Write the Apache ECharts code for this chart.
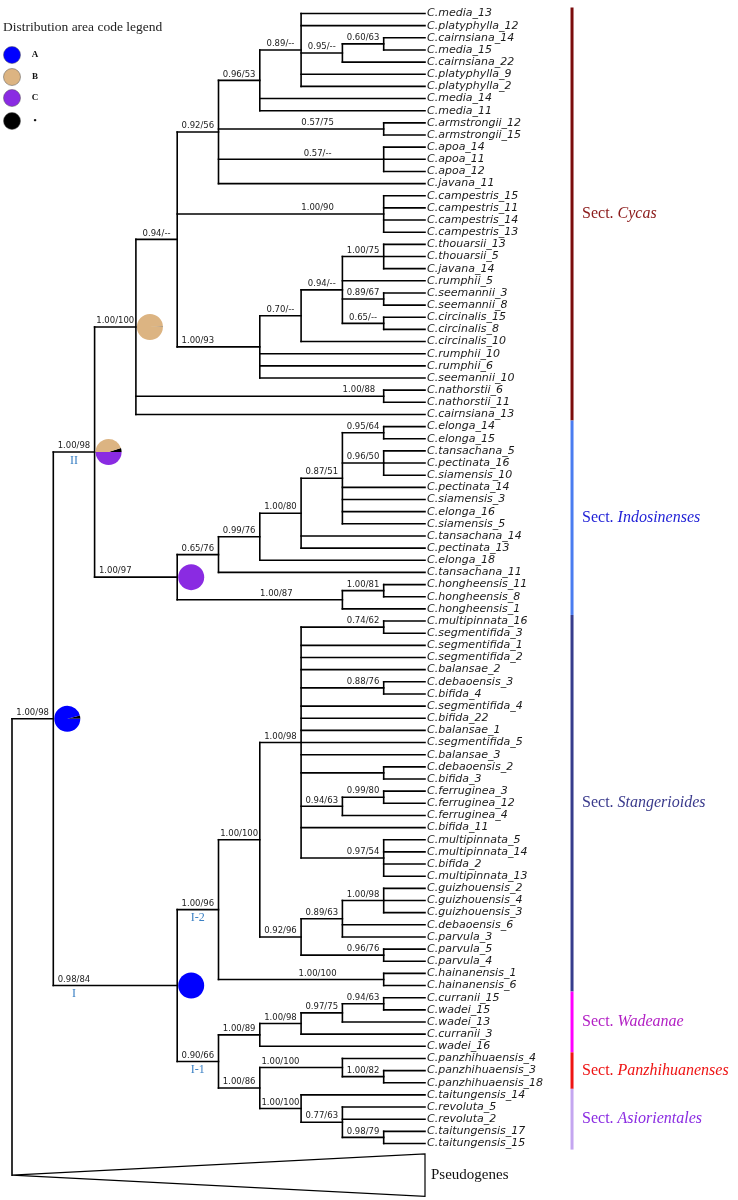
<!DOCTYPE html>
<html><head><meta charset="utf-8">
<script src="https://cdn.jsdelivr.net/npm/echarts@6/dist/echarts.min.js"></script>
<style>html,body{margin:0;padding:0;background:#fff}#chart{width:738px;height:1200px}</style>
</head><body><div id="chart"></div>
<script>
// ===================== DATA =====================
// Tree topology with support values (BI/ML) as internal labels; "#tag" marks named nodes.
const treeNewick = `(
(
 (
  (
   (
    (
     (
      (C.media_13,C.platyphylla_12,((C.cairnsiana_14,C.media_15)'0.60/63',C.cairnsiana_22)'0.95/--',C.platyphylla_9,C.platyphylla_2)'0.89/--',
      C.media_14,C.media_11
     )'0.96/53',
     (C.armstrongii_12,C.armstrongii_15)'0.57/75',
     (C.apoa_14,C.apoa_11,C.apoa_12)'0.57/--',
     C.javana_11
    )'0.92/56',
    (C.campestris_15,C.campestris_11,C.campestris_14,C.campestris_13)'1.00/90',
    (
     (
      ((C.thouarsii_13,C.thouarsii_5,C.javana_14)'1.00/75',C.rumphii_5,(C.seemannii_3,C.seemannii_8)'0.89/67',(C.circinalis_15,C.circinalis_8)'0.65/--')'0.94/--',
      C.circinalis_10
     )'0.70/--',
     C.rumphii_10,C.rumphii_6,C.seemannii_10
    )'1.00/93'
   )'0.94/--',
   (C.nathorstii_6,C.nathorstii_11)'1.00/88',
   C.cairnsiana_13
  )'1.00/100#cyc',
  (
   (
    (
     (
      ((C.elonga_14,C.elonga_15)'0.95/64',(C.tansachana_5,C.pectinata_16,C.siamensis_10)'0.96/50',C.pectinata_14,C.siamensis_3,C.elonga_16,C.siamensis_5)'0.87/51',
      C.tansachana_14,C.pectinata_13
     )'1.00/80',
     C.elonga_18
    )'0.99/76',
    C.tansachana_11
   )'0.65/76',
   ((C.hongheensis_11,C.hongheensis_8)'1.00/81',C.hongheensis_1)'1.00/87'
  )'1.00/97#indo'
 )'1.00/98#II',
 (
  (
   (
    (
     (C.multipinnata_16,C.segmentifida_3)'0.74/62',C.segmentifida_1,C.segmentifida_2,C.balansae_2,
     (C.debaoensis_3,C.bifida_4)'0.88/76',C.segmentifida_4,C.bifida_22,C.balansae_1,C.segmentifida_5,C.balansae_3,
     (C.debaoensis_2,C.bifida_3),
     ((C.ferruginea_3,C.ferruginea_12)'0.99/80',C.ferruginea_4)'0.94/63',
     C.bifida_11,
     (C.multipinnata_5,C.multipinnata_14,C.bifida_2,C.multipinnata_13)'0.97/54'
    )'1.00/98',
    (
     ((C.guizhouensis_2,C.guizhouensis_4,C.guizhouensis_3)'1.00/98',C.debaoensis_6,C.parvula_3)'0.89/63',
     (C.parvula_5,C.parvula_4)'0.96/76'
    )'0.92/96'
   )'1.00/100',
   (C.hainanensis_1,C.hainanensis_6)'1.00/100'
  )'1.00/96#I-2',
  (
   (
    (((C.curranii_15,C.wadei_15)'0.94/63',C.wadei_13)'0.97/75',C.curranii_3)'1.00/98',
    C.wadei_16
   )'1.00/89',
   (
    (C.panzhihuaensis_4,(C.panzhihuaensis_3,C.panzhihuaensis_18)'1.00/82')'1.00/100',
    (C.taitungensis_14,(C.revoluta_5,C.revoluta_2,(C.taitungensis_17,C.taitungensis_15)'0.98/79')'0.77/63')'1.00/100'
   )'1.00/86'
  )'0.90/66#I-1'
 )'0.98/84#I'
)'1.00/98#main',
Pseudogenes
);`;

const collapsedTips = ['Pseudogenes'];

const sectionNames = ['Cycas', 'Indosinenses', 'Stangerioides', 'Wadeanae', 'Panzhihuanenses', 'Asiorientales'];
const sectionTipCounts = [34, 16, 31, 5, 3, 5];

const pieTags = ['main', 'II', 'cyc', 'indo', 'I'];
const pieShareX = [0.04, 0.05, 0.005, 0, 0];   // black "*"
const pieShareB = [0, 0.45, 0.995, 0, 0];      // B
const pieShareC = [0, 0.50, 0, 1, 0];          // C
const pieShareA = [0.96, 0, 0, 0, 1];          // A

const cladeTags = ['II', 'I', 'I-2', 'I-1'];
const cladeNames = ['II', 'I', 'I-2', 'I-1'];

const legendTitle = 'Distribution area code legend';
const legendCodes = ['A', 'B', 'C', '•'];

// ===================== STYLE =====================
const AREA_COLORS = { A: '#0000ff', B: '#dcb482', C: '#8a2be2', X: '#000000' };
const LEGEND_COLORS = ['#0000ff', '#dcb482', '#8a2be2', '#000000'];
const SECTION_BAR_COLORS = ['#7b0c0c', '#4a7cf0', '#363c8c', '#ff00ff', '#ee1414', '#c4a6f0'];
const SECTION_TEXT_COLORS = ['#8b1a1a', '#1f1fd6', '#3a3a8c', '#b21fc4', '#ee1414', '#8a2be2'];
const SUPPORT_COL_OVERRIDE = { '1.00/88': 8.4 };
const BAR_COL = 13.56;
const TIP_FONT = "italic 11px 'DejaVu Sans'";
const SUP_FONT = "8.5px 'DejaVu Sans'";
const SERIF = "'Liberation Serif','Times New Roman',serif";

// ===================== PARSE & LAYOUT =====================
function parseNewick(src) {
  const s = src.replace(/\s+/g, '').replace(/;$/, '');
  let i = 0;
  function readLabel() {
    if (s[i] === "'") { const j = s.indexOf("'", i + 1); const t = s.slice(i + 1, j); i = j + 1; return t; }
    let j = i; while (j < s.length && !',()'.includes(s[j])) j++;
    const t = s.slice(i, j); i = j; return t;
  }
  function node() {
    if (s[i] === '(') {
      i++; const children = [];
      while (true) {
        children.push(node());
        if (s[i] === ',') { i++; continue; }
        if (s[i] === ')') { i++; break; }
        throw new Error('bad newick at ' + i);
      }
      const lab = readLabel();
      const parts = lab.split('#');
      return { children, support: parts[0] || '', tag: parts[1] || '' };
    }
    return { name: readLabel() };
  }
  return node();
}
const root = parseNewick(treeNewick);

let tipCounter = 0;
const tips = [];
function layout(n, parent) {
  n.parent = parent;
  if (!n.children) {
    n.h = 0;
    if (collapsedTips.includes(n.name)) { n.collapsed = true; n.y = tipCounter - 1 + 2.6; }
    else { n.y = tipCounter++; tips.push(n); }
    return;
  }
  n.children.forEach(c => layout(c, n));
  n.h = 1 + Math.max(...n.children.map(c => c.h));
  n.y = (n.children[0].y + n.children[n.children.length - 1].y) / 2;
}
layout(root, null);
const maxH = root.h;
const allNodes = [];
(function walk(n) { n.col = maxH - n.h; allNodes.push(n); (n.children || []).forEach(walk); })(root);

// segments
const segs = [];
const triangles = [];
allNodes.forEach(n => {
  if (!n.children) return;
  const f = n.children[0], l = n.children[n.children.length - 1];
  segs.push([n.col, f.y, n.col, l.y]);
  n.children.forEach(c => {
    if (c.collapsed) triangles.push({ c0: n.col, y: c.y, name: c.name });
    else segs.push([n.col, c.y, c.col, c.y]);
  });
});

// support labels
const supports = [];
const cladeLabelItems = [];
allNodes.forEach(n => {
  if (!n.children || !n.parent || !n.support) return;
  const pc = n.parent.col, c = n.col, len = c - pc;
  let x;
  if (SUPPORT_COL_OVERRIDE[n.support] !== undefined) x = SUPPORT_COL_OVERRIDE[n.support];
  else if (len === 1) x = pc + 0.5;
  else if (len <= 3) x = (c === maxH - 1) ? c - 0.5 : pc + 0.5;
  else x = c - 1.6;
  supports.push({ x, y: n.y, text: n.support });
  const ci = cladeTags.indexOf(n.tag);
  if (ci >= 0) cladeLabelItems.push({ x, y: n.y, text: cladeNames[ci] });
});

// pies
const pies = [];
allNodes.forEach(n => {
  const k = pieTags.indexOf(n.tag);
  if (k >= 0) pies.push({ x: n.col, y: n.y, shares: [['X', pieShareX[k]], ['B', pieShareB[k]], ['C', pieShareC[k]], ['A', pieShareA[k]]] });
});

// sections
const sections = [];
let start = 0;
sectionNames.forEach((nm, k) => {
  const e = start + sectionTipCounts[k] - 1;
  sections.push({ y0: tips[start].y - 0.5, y1: tips[e].y + 0.5, name: nm, k });
  start = e + 1;
});

// ===================== CHART =====================
const chart = echarts.init(document.getElementById('chart'));
const option = {
  animation: false,
  backgroundColor: '#fff',
  grid: { left: 12, top: 13.5, width: 413, height: 1130, containLabel: false },
  xAxis: { type: 'value', min: 0, max: maxH, show: false },
  yAxis: { type: 'value', min: 0, max: tips.length - 1, inverse: true, show: false },
  graphic: [
    { type: 'text', left: 3, top: 20, style: { text: legendTitle, font: `13.5px ${SERIF}`, fill: '#222' } },
    ...legendCodes.map((c, k) => ({ type: 'circle', shape: { cx: 12, cy: [55, 77, 98, 121][k], r: 8.5 }, style: { fill: LEGEND_COLORS[k], stroke: '#555', lineWidth: 0.5 } })),
    ...legendCodes.map((c, k) => ({ type: 'text', x: 35, y: [55, 77, 98, 121][k], style: { text: c, font: `bold 9px ${SERIF}`, fill: '#111', align: 'center', verticalAlign: 'middle' } }))
  ],
  series: [
    {
      type: 'custom', name: 'branches', clip: false, silent: true,
      data: segs,
      renderItem: (p, api) => {
        const a = api.coord([api.value(0), api.value(1)]), b = api.coord([api.value(2), api.value(3)]);
        return { type: 'line', shape: { x1: a[0], y1: a[1], x2: b[0], y2: b[1] }, style: { stroke: '#000', lineWidth: 1.6, lineCap: 'square' } };
      }
    },
    {
      type: 'custom', name: 'collapsed', clip: false, silent: true,
      data: triangles.map(t => [t.c0, t.y]),
      renderItem: (p, api) => {
        const t = triangles[p.dataIndex];
        const apex = api.coord([t.c0, t.y]);
        const top = api.coord([maxH, t.y - 1.75]);
        const bot = api.coord([maxH, t.y + 1.75]);
        return { type: 'group', children: [
          { type: 'polygon', shape: { points: [apex, top, bot] }, style: { fill: '#fff', stroke: '#000', lineWidth: 1.2 } },
          { type: 'text', x: top[0] + 6, y: apex[1], style: { text: t.name, font: `15px ${SERIF}`, fill: '#111', verticalAlign: 'middle' } }
        ] };
      }
    },
    {
      type: 'custom', name: 'pies', clip: false, silent: true,
      data: pies.map(q => [q.x, q.y]),
      renderItem: (p, api) => {
        const q = pies[p.dataIndex];
        const c = api.coord([q.x, q.y]);
        const cx = c[0] + 14, cy = c[1], r = 13;
        let a0 = 0;
        const children = [];
        q.shares.forEach(([k, f]) => {
          if (f <= 0) return;
          const a1 = a0 - f * Math.PI * 2;
          children.push({ type: 'sector', shape: { cx, cy, r, r0: 0, startAngle: a1, endAngle: a0, clockwise: true }, style: { fill: AREA_COLORS[k] } });
          a0 = a1;
        });
        return { type: 'group', children };
      }
    },
    {
      type: 'custom', name: 'tipLabels', clip: false, silent: true,
      data: tips.map(t => [maxH, t.y]),
      renderItem: (p, api) => {
        const c = api.coord([api.value(0), api.value(1)]);
        return { type: 'text', x: c[0] + 2, y: c[1], style: { text: tips[p.dataIndex].name, font: TIP_FONT, fill: '#1a1a1a', verticalAlign: 'middle', align: 'left' } };
      }
    },
    {
      type: 'custom', name: 'supports', clip: false, silent: true,
      data: supports.map(s => [s.x, s.y]),
      renderItem: (p, api) => {
        const c = api.coord([api.value(0), api.value(1)]);
        return { type: 'text', x: c[0], y: c[1] - 1.5, style: { text: supports[p.dataIndex].text, font: SUP_FONT, fill: '#222', align: 'center', verticalAlign: 'bottom' } };
      }
    },
    {
      type: 'custom', name: 'clades', clip: false, silent: true,
      data: cladeLabelItems.map(s => [s.x, s.y]),
      renderItem: (p, api) => {
        const c = api.coord([api.value(0), api.value(1)]);
        return { type: 'text', x: c[0], y: c[1] + 2.5, style: { text: cladeLabelItems[p.dataIndex].text, font: `12px ${SERIF}`, fill: '#3a80c4', align: 'center', verticalAlign: 'top' } };
      }
    },
    {
      type: 'custom', name: 'sections', clip: false, silent: true,
      data: sections.map(s => [BAR_COL, s.y0, s.y1]),
      renderItem: (p, api) => {
        const s = sections[p.dataIndex];
        const a = api.coord([BAR_COL, s.y0]), b = api.coord([BAR_COL, s.y1]);
        const col = SECTION_TEXT_COLORS[s.k];
        return { type: 'group', children: [
          { type: 'rect', shape: { x: a[0] - 1.5, y: a[1], width: 3, height: b[1] - a[1] }, style: { fill: SECTION_BAR_COLORS[s.k] } },
          { type: 'text', x: a[0] + 10, y: (a[1] + b[1]) / 2, style: {
            text: '{n|Sect. }{i|' + s.name + '}', verticalAlign: 'middle', align: 'left',
            rich: { n: { font: `16px ${SERIF}`, fill: col }, i: { font: `italic 16px ${SERIF}`, fill: col } }
          } }
        ] };
      }
    }
  ]
};
chart.setOption(option);
</script>
</body></html>
